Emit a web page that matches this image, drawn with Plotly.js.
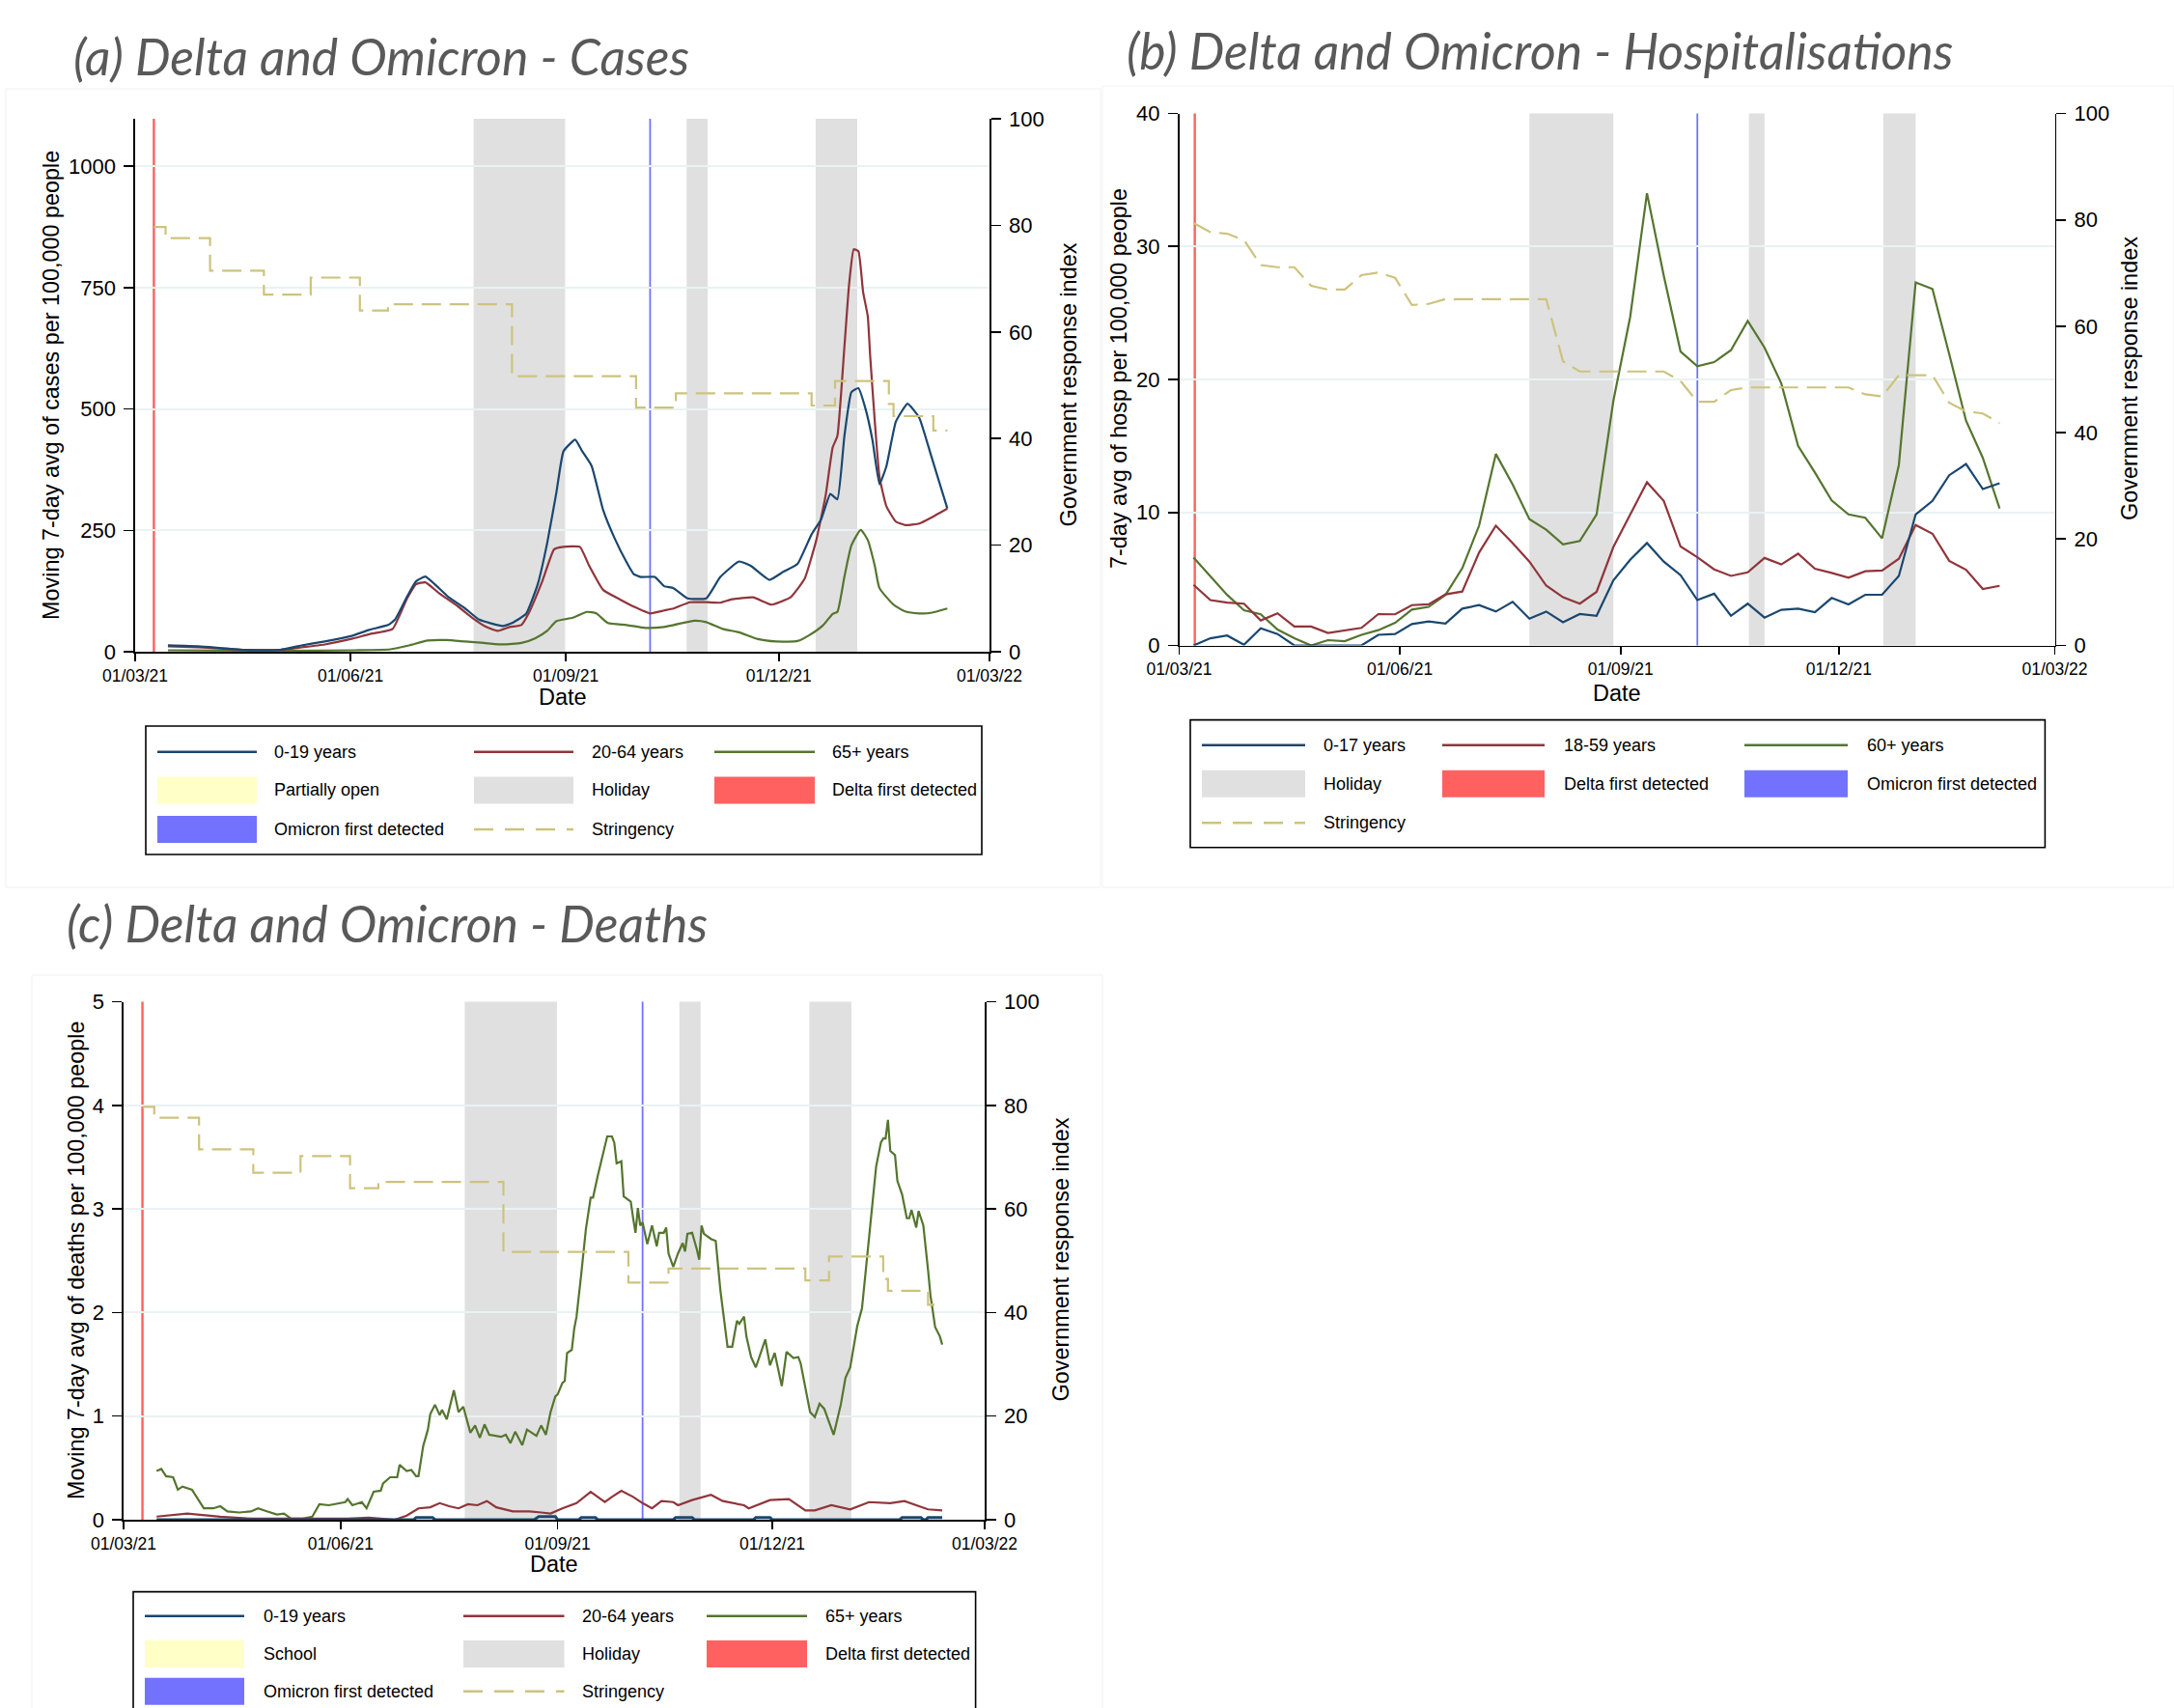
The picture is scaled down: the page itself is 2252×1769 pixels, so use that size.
<!DOCTYPE html>
<html>
<head>
<meta charset="utf-8">
<script src="https://cdn.plot.ly/plotly-3.0.1.min.js"></script>
<style>html,body{margin:0;padding:0;background:#fff}#chart{width:2252px;height:1769px}</style>
</head>
<body>
<div id="chart"></div>
<script>
// ---------- DATA (x values are days since 1 March 2021) ----------
const tickDays = [0, 92, 184, 275, 365];
const tickLabels = ['01/03/21', '01/06/21', '01/09/21', '01/12/21', '01/03/22'];

// (a) Cases per 100,000 (7-day moving average)
const casesBlueDays = [14,27,46,62,71,81,92,100,108,111,116,120,124,128,134,141,147,157,161,167,172,176,180,183,188,191,195,200,205,210,213,216,222,226,230,236,244,250,258,263,271,277,283,289,293,297,300,303,306,309,312,315,318,321,325,330,335,340,347];
const casesBlue = [13,11,4,4,13,21,32,45,55,66,112,145,155,139,112,89,66,53,59,78,139,223,329,413,437,413,383,291,232,184,160,154,154,135,131,110,110,154,186,177,148,165,181,242,272,325,314,444,535,543,501,436,345,383,474,511,482,405,295];
const casesRedDays = [14,27,46,62,71,81,92,100,110,116,120,124,130,138,144,150,155,160,165,168,174,179,183,190,194,200,207,213,220,226,230,237,244,250,255,264,272,280,286,291,295,298,300,303,305,307,309,311,313,314,316,318,321,325,329,335,340,347];
const casesRed = [11,9,4,4,9,15,26,36,47,108,139,143,120,93,70,51,43,51,55,78,146,211,216,216,177,127,108,93,79,85,89,102,102,101,108,112,97,112,150,230,322,421,444,627,756,829,825,741,691,611,474,360,299,268,261,264,276,295];
const casesGreenDays = [14,62,94,109,117,125,133,141,149,157,165,171,176,180,187,193,197,202,210,218,226,230,239,244,251,258,266,274,283,288,294,298,300,303,306,310,313,316,318,324,329,335,340,347];
const casesGreen = [3,2,3,5,13,23,24,21,18,15,18,28,43,63,70,82,79,59,55,49,51,55,64,61,47,40,26,21,22,34,55,78,82,154,219,251,230,177,131,97,83,79,80,89];

// Stringency index (daily step series, used in panels a and c)
const stringDays = [8,13,32,55,75,96,108,161,214,231,289,299,322,324,341,347];
const stringency = [79.7,77.6,71.5,67.0,70.2,64.0,65.2,51.7,45.8,48.5,46.2,50.8,46.5,44.2,41.5,41.5];

// events (panels a and c)
const holidayStartAC = [144.6, 235.6, 290.7];
const holidayEndAC = [183.7, 244.6, 308.5];
const deltaDayAC = 8;
const omicronDayAC = 220;

// (b) Hospitalisations per 100,000 (weekly)
const hospDays = [6,13,20,27,34,41,48,55,62,69,76,83,90,97,104,111,118,125,132,139,146,153,160,167,174,181,188,195,202,209,216,223,230,237,244,251,258,265,272,279,286,293,300,307,314,321,328,335,342];
const hosp0_17 = [0,0.54,0.75,0.05,1.29,0.86,0,0,0,0,0,0.8,0.86,1.61,1.8,1.64,2.77,3.03,2.55,3.28,2.01,2.55,1.74,2.36,2.23,4.9,6.44,7.7,6.3,5.29,3.41,3.89,2.23,3.14,2.09,2.68,2.77,2.5,3.57,3.09,3.81,3.81,5.23,9.85,10.87,12.8,13.64,11.76,12.2];
const hosp18_59 = [4.56,3.41,3.22,3.14,1.88,2.42,1.42,1.42,0.94,1.15,1.32,2.36,2.34,3.03,3.09,3.84,4.05,6.98,9.0,7.7,6.3,4.5,3.62,3.14,4.03,7.4,9.8,12.27,10.87,7.44,6.63,5.72,5.23,5.5,6.58,6.09,6.9,5.77,5.45,5.1,5.58,5.64,6.52,9.05,8.4,6.36,5.69,4.24,4.48];
const hosp60 = [6.6,5.2,3.8,2.65,2.35,1.2,0.55,0.0,0.4,0.32,0.8,1.15,1.7,2.7,2.9,3.8,5.8,9.0,14.4,12.1,9.5,8.7,7.6,7.85,9.85,18.4,24.7,34.0,27.8,22.1,21.0,21.3,22.2,24.4,22.4,19.7,15.0,13.0,10.9,9.85,9.6,8.05,13.56,27.3,26.8,21.9,16.9,14.1,10.3];
const hospStringency = [79.4,77.7,77.4,76.2,71.5,71.1,71.1,67.6,66.9,66.9,69.6,70.1,69.1,64.0,64.2,65.1,65.1,65.1,65.1,65.1,65.1,65.1,53.4,51.5,51.5,51.5,51.5,51.5,51.5,49.7,45.8,45.8,48.0,48.5,48.5,48.5,48.5,48.5,48.5,48.5,47.2,46.8,50.8,50.8,50.8,45.6,44.0,43.6,41.8];
const holidayStartB = [146, 237.5, 293.5];
const holidayEndB = [181, 244, 307];
const deltaDayB = 6.5;
const omicronDayB = 216;

// (c) Deaths per 100,000 (7-day moving average)
const deathsGreenDays = [14,16,18,21,23,25,29,34,38,41,44,49,54,57,61,65,68,71,76,80,83,87,94,95,97,101,103,106,109,110,113,116,117,120,122,124,125,127,129,130,132,134,135,137,140,142,144,147,149,151,153,155,160,162,164,166,169,171,175,177,179,181,183,184,186,187,188,190,191,192,194,196,198,199,201,203,205,207,208,209,211,212,215,216,217,218,219,220,222,224,226,227,229,230,231,233,235,237,238,239,241,243,244,245,246,249,251,253,255,256,258,260,261,263,264,266,268,270,272,274,276,279,281,284,286,287,289,291,293,295,297,299,301,304,306,308,311,313,315,317,319,321,322,323,324,325,327,328,330,332,333,334,336,337,339,341,342,344,346,347];
const deathsGreen = [0.47,0.49,0.42,0.41,0.29,0.32,0.29,0.11,0.11,0.13,0.08,0.07,0.08,0.11,0.08,0.05,0.06,0.01,0.01,0.03,0.15,0.14,0.17,0.20,0.14,0.17,0.11,0.27,0.28,0.35,0.41,0.41,0.53,0.47,0.48,0.42,0.42,0.71,0.87,1.02,1.11,1.01,1.06,0.97,1.25,1.04,1.09,0.84,0.91,0.79,0.92,0.82,0.80,0.82,0.74,0.85,0.72,0.87,0.81,0.91,0.82,1.04,1.19,1.21,1.32,1.34,1.61,1.64,1.84,1.96,2.37,2.81,3.11,3.11,3.32,3.51,3.70,3.70,3.64,3.44,3.46,3.12,3.07,2.91,2.77,3.01,2.84,2.87,2.66,2.84,2.64,2.77,2.77,2.82,2.57,2.44,2.57,2.67,2.59,2.76,2.77,2.61,2.51,2.84,2.76,2.71,2.69,2.21,1.84,1.67,1.67,1.92,1.89,1.96,1.77,1.57,1.47,1.61,1.74,1.49,1.61,1.29,1.62,1.56,1.57,1.51,1.26,1.04,0.99,1.12,1.07,0.94,0.82,1.11,1.37,1.47,1.87,2.04,2.51,2.91,3.41,3.64,3.68,3.68,3.86,3.56,3.52,3.27,3.14,2.91,2.91,2.99,2.82,2.98,2.84,2.41,2.17,1.86,1.77,1.69];
const deathsRedDays = [14,27,41,54,68,82,95,104,115,120,125,130,134,138,142,146,150,154,158,165,172,177,181,186,192,198,204,207,211,216,220,224,228,233,235,241,249,254,263,265,274,282,289,293,300,308,316,325,331,336,341,347];
const deathsRed = [0.03,0.06,0.03,0.01,0.01,0.01,0.01,0.02,0.00,0.04,0.11,0.12,0.16,0.13,0.11,0.15,0.14,0.18,0.12,0.08,0.08,0.07,0.06,0.11,0.16,0.27,0.17,0.22,0.28,0.22,0.16,0.11,0.18,0.17,0.14,0.19,0.24,0.18,0.14,0.11,0.19,0.20,0.09,0.09,0.14,0.10,0.17,0.16,0.18,0.14,0.10,0.09];
const deathsBlueDays = [14,123,124,131,132,174,176,183,184,193,194,200,201,233,234,241,242,267,268,274,275,329,330,338,339,340,341,347];
const deathsBlue = [0,0,0.02,0.02,0,0,0.03,0.03,0,0,0.02,0.02,0,0,0.02,0.02,0,0,0.02,0.02,0,0,0.02,0.02,0,0,0.02,0.02];

// legend labels and titles
const legendA = ['0-19 years','20-64 years','65+ years','Partially open','Holiday','Delta first detected','Omicron first detected','Stringency'];
const legendB = ['0-17 years','18-59 years','60+ years','Holiday','Delta first detected','Omicron first detected','Stringency'];
const legendC = ['0-19 years','20-64 years','65+ years','School','Holiday','Delta first detected','Omicron first detected','Stringency'];
const titles = ['(a) Delta and Omicron - Cases','(b) Delta and Omicron - Hospitalisations','(c) Delta and Omicron - Deaths'];

// ---------- STYLE ----------
const W = 2252, H = 1769;
const FONT = 'Liberation Sans, Arial, Helvetica, sans-serif';
const C = {navy:'#1a476f', maroon:'#90353b', green:'#55752f', sand:'#cdc37d',
           holiday:'#e0e0e0', delta:'#ff6161', omicron:'#7272ff', school:'#ffffc8', grid:'#eaf2f3'};
const X = p => p / W;
const Y = p => 1 - p / H;
const START = Date.UTC(2021, 2, 1);
const toDate = d => new Date(START + d * 864e5).toISOString().slice(0, 19).replace('T', ' ');
const toDates = arr => arr.map(toDate);

// ---------- TRACES ----------
function line(days, vals, color, xa, ya, opts) {
  return Object.assign({
    type: 'scatter', mode: 'lines', x: toDates(days), y: vals, xaxis: xa, yaxis: ya,
    line: {color: color, width: 2.2}, showlegend: false, hoverinfo: 'skip'
  }, opts || {});
}
const dashStr = '20px,9px';
const traces = [
  // (a)
  line(stringDays, stringency, C.sand, 'x', 'y2', {line: {color: C.sand, width: 2.2, dash: dashStr, shape: 'hv'}}),
  line(casesGreenDays, casesGreen, C.green, 'x', 'y', {line: {color: C.green, width: 2.2, shape: 'spline', smoothing: 0.5}}),
  line(casesRedDays, casesRed, C.maroon, 'x', 'y', {line: {color: C.maroon, width: 2.2, shape: 'spline', smoothing: 0.4}}),
  line(casesBlueDays, casesBlue, C.navy, 'x', 'y', {line: {color: C.navy, width: 2.2, shape: 'spline', smoothing: 0.4}}),
  // (b)
  line(hospDays, hospStringency, C.sand, 'x2', 'y4', {line: {color: C.sand, width: 2.2, dash: dashStr}}),
  line(hospDays, hosp60, C.green, 'x2', 'y3'),
  line(hospDays, hosp18_59, C.maroon, 'x2', 'y3'),
  line(hospDays, hosp0_17, C.navy, 'x2', 'y3'),
  // (c)
  line(stringDays, stringency, C.sand, 'x3', 'y6', {line: {color: C.sand, width: 2.2, dash: dashStr, shape: 'hv'}}),
  line(deathsGreenDays, deathsGreen, C.green, 'x3', 'y5'),
  line(deathsRedDays, deathsRed, C.maroon, 'x3', 'y5'),
  line(deathsBlueDays, deathsBlue, C.navy, 'x3', 'y5', {line: {color: C.navy, width: 3}})
];

// ---------- AXES ----------
function xAxis(l, r, anchor) {
  return {domain: [X(l), X(r)], anchor: anchor, type: 'date',
    range: [toDate(tickDays[0]), toDate(tickDays[tickDays.length - 1])],
    tickmode: 'array', tickvals: toDates(tickDays), ticktext: tickLabels,
    ticks: 'outside', ticklen: 8, tickwidth: 1.6, tickcolor: '#000',
    showline: true, linecolor: '#000', linewidth: 1.6, showgrid: false, zeroline: false,
    tickfont: {family: FONT, size: 17.5, color: '#000'}, fixedrange: true};
}
function yLeft(top, bottom, anchor, range, tickvals) {
  return {domain: [Y(bottom), Y(top)], anchor: anchor, range: range, tickmode: 'array', tickvals: tickvals,
    ticks: 'outside', ticklen: 10, tickwidth: 1.6, tickcolor: '#000',
    showline: true, linecolor: '#000', linewidth: 1.6, showgrid: true, gridcolor: C.grid, gridwidth: 2,
    zeroline: false, tickfont: {family: FONT, size: 22, color: '#000'}, ticklabelstandoff: 4, fixedrange: true};
}
function yRight(overlay, anchor) {
  return {overlaying: overlay, anchor: anchor, side: 'right', range: [0, 100], tickmode: 'array',
    tickvals: [0, 20, 40, 60, 80, 100], ticks: 'outside', ticklen: 10, tickwidth: 1.6, tickcolor: '#000',
    showline: true, linecolor: '#000', linewidth: 1.6, showgrid: false, zeroline: false,
    tickfont: {family: FONT, size: 22, color: '#000'}, ticklabelstandoff: 4, fixedrange: true};
}

// ---------- SHAPES ----------
const shapes = [];
// faint panel frames
[[6, 92, 1140, 919], [1142, 89, 2252, 919], [33, 1010, 1142, 1800]].forEach(b => shapes.push({
  type: 'rect', xref: 'paper', yref: 'paper', x0: X(b[0]), x1: X(b[2]), y0: Y(b[3]), y1: Y(b[1]),
  line: {color: '#f1f1f1', width: 1}, fillcolor: 'rgba(0,0,0,0)', layer: 'below'}));
function events(xref, yref, hs, he, dDay, oDay) {
  hs.forEach((s, i) => shapes.push({type: 'rect', xref: xref, yref: yref + ' domain', x0: toDate(s), x1: toDate(he[i]),
    y0: 0, y1: 1, fillcolor: C.holiday, line: {width: 0}, layer: 'below'}));
  shapes.push({type: 'line', xref: xref, yref: yref + ' domain', x0: toDate(dDay), x1: toDate(dDay), y0: 0, y1: 1,
    line: {color: C.delta, width: 2.4}, layer: 'below'});
  shapes.push({type: 'line', xref: xref, yref: yref + ' domain', x0: toDate(oDay), x1: toDate(oDay), y0: 0, y1: 1,
    line: {color: C.omicron, width: 1.8}, layer: 'below'});
}
events('x', 'y', holidayStartAC, holidayEndAC, deltaDayAC, omicronDayAC);
events('x2', 'y3', holidayStartB, holidayEndB, deltaDayB, omicronDayB);
events('x3', 'y5', holidayStartAC, holidayEndAC, deltaDayAC, omicronDayAC);

// ---------- ANNOTATIONS ----------
const annotations = [];
function txt(text, x, y, opts) {
  annotations.push(Object.assign({text: text, x: X(x), y: Y(y), xref: 'paper', yref: 'paper', showarrow: false,
    xanchor: 'center', yanchor: 'middle', font: {family: FONT, size: 23.4, color: '#000'}}, opts || {}));
}
const titleFont = {family: 'Lato, Open Sans, sans-serif', size: 51.7, color: '#595959', style: 'italic'};
txt(titles[0], 74, 58, {xanchor: 'left', font: titleFont});
txt(titles[1], 1165, 52, {xanchor: 'left', font: titleFont});
txt(titles[2], 66.5, 956, {xanchor: 'left', font: titleFont});

txt('Moving 7-day avg of cases per 100,000 people', 53, 399, {textangle: -90});
txt('Government response index', 1106, 398.5, {textangle: -90});
txt('Date', 582.5, 722, {font: {family: FONT, size: 23.5, color: '#000'}});
txt('7-day avg of hosp per 100,000 people', 1159, 392, {textangle: -90});
txt('Government response index', 2206, 392, {textangle: -90});
txt('Date', 1675, 717.5, {font: {family: FONT, size: 23.5, color: '#000'}});
txt('Moving 7-day avg of deaths per 100,000 people', 79, 1306, {textangle: -90});
txt('Government response index', 1098, 1304.5, {textangle: -90});
txt('Date', 574, 1620, {font: {family: FONT, size: 23.5, color: '#000'}});

// ---------- MANUAL LEGENDS ----------
function legend(box, cols, rows, items, labels) {
  shapes.push({type: 'rect', xref: 'paper', yref: 'paper', x0: X(box[0]), x1: X(box[2]), y0: Y(box[3]), y1: Y(box[1]),
    line: {color: '#000', width: 1.6}, fillcolor: 'rgba(0,0,0,0)', layer: 'above'});
  items.forEach((it, i) => {
    const c = cols[i % 3], cy = rows[Math.floor(i / 3)];
    if (it.kind === 'box') {
      shapes.push({type: 'rect', xref: 'paper', yref: 'paper', x0: X(c[0]), x1: X(c[1]), y0: Y(cy + 14), y1: Y(cy - 14),
        fillcolor: it.color, line: {width: 0}});
    } else {
      shapes.push({type: 'line', xref: 'paper', yref: 'paper', x0: X(c[0]), x1: X(c[1]), y0: Y(cy), y1: Y(cy),
        line: {color: it.color, width: 2.4, dash: it.kind === 'dash' ? '20px,12px' : 'solid'}});
    }
    txt(labels[i], c[2], cy, {xanchor: 'left', font: {family: FONT, size: 18, color: '#000'}});
  });
}
const itemsA = [{kind:'line',color:C.navy},{kind:'line',color:C.maroon},{kind:'line',color:C.green},
  {kind:'box',color:C.school},{kind:'box',color:C.holiday},{kind:'box',color:C.delta},
  {kind:'box',color:C.omicron},{kind:'dash',color:C.sand}];
const itemsB = [{kind:'line',color:C.navy},{kind:'line',color:C.maroon},{kind:'line',color:C.green},
  {kind:'box',color:C.holiday},{kind:'box',color:C.delta},{kind:'box',color:C.omicron},
  {kind:'dash',color:C.sand}];
legend([151, 752, 1017, 885], [[163, 266, 282], [491, 594, 611], [740, 844, 860]], [778.7, 818.5, 859], itemsA, legendA);
legend([1233, 745.6, 2118.4, 877.8], [[1245, 1352, 1369], [1494, 1600, 1618], [1807, 1914, 1931.5]], [771.7, 811.7, 852.3], itemsB, legendB);
legend([138, 1648.6, 1010.6, 1800], [[150, 253, 271], [480, 584.5, 601], [732, 836, 853]], [1673.7, 1713, 1751.8], itemsA, legendC);

// ---------- LAYOUT ----------
const layout = {
  width: W, height: H, margin: {l: 0, r: 0, t: 0, b: 0}, autosize: false,
  paper_bgcolor: '#fff', plot_bgcolor: 'rgba(0,0,0,0)', showlegend: false, hovermode: false,
  xaxis: xAxis(140, 1025, 'y'),
  yaxis: yLeft(123, 675, 'x', [0, 1098], [0, 250, 500, 750, 1000]),
  yaxis2: yRight('y', 'x'),
  xaxis2: xAxis(1221.5, 2128.5, 'y3'),
  yaxis3: yLeft(117.5, 668.5, 'x2', [0, 40], [0, 10, 20, 30, 40]),
  yaxis4: yRight('y3', 'x2'),
  xaxis3: xAxis(128, 1020, 'y5'),
  yaxis5: yLeft(1037.5, 1574, 'x3', [0, 5], [0, 1, 2, 3, 4, 5]),
  yaxis6: yRight('y5', 'x3'),
  shapes: shapes, annotations: annotations
};
Plotly.newPlot('chart', traces, layout, {staticPlot: true, displayModeBar: false});
</script>
</body>
</html>
